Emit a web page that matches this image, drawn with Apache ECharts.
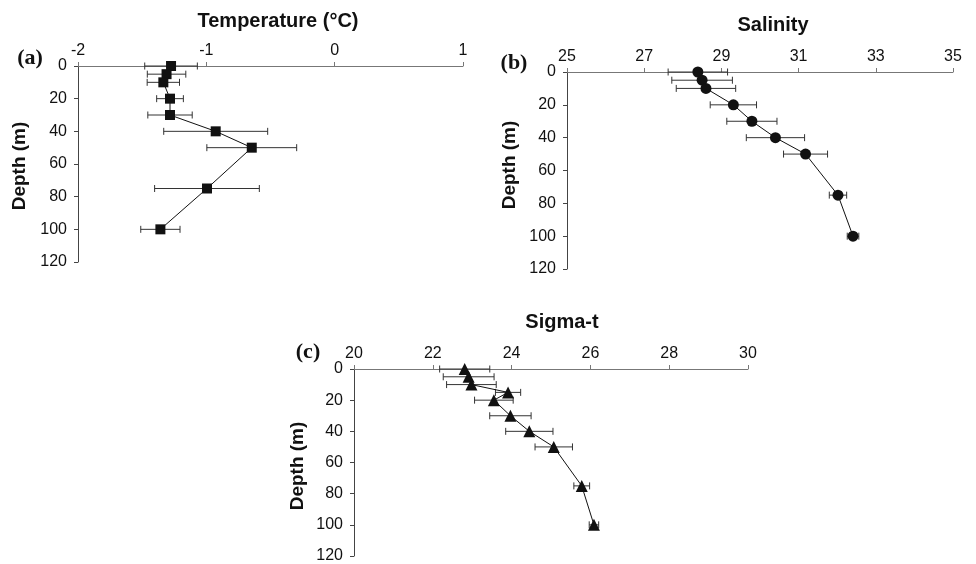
<!DOCTYPE html>
<html>
<head>
<meta charset="utf-8">
<script src="https://cdn.jsdelivr.net/npm/echarts@6/dist/echarts.min.js"></script>
<style>
  html, body { margin: 0; padding: 0; background: #fff; }
  #chart { width: 976px; height: 564px; }
</style>
</head>
<body>
<div id="chart"></div>
<script>
// (a) temperature profile
var tempDepth = [0, 5, 10, 20, 30, 40, 50, 75, 100];
var tempMean = [-1.275, -1.31, -1.335, -1.283, -1.283, -0.927, -0.646, -0.995, -1.358];
var tempErr = [0.205, 0.15, 0.126, 0.104, 0.173, 0.405, 0.35, 0.408, 0.153];

// (b) salinity profile
var salDepth = [0, 5, 10, 20, 30, 40, 50, 75, 100];
var salMean = [28.39, 28.5, 28.6, 29.31, 29.79, 30.4, 31.18, 32.02, 32.41];
var salErr = [0.77, 0.785, 0.77, 0.6, 0.65, 0.755, 0.57, 0.225, 0.15];

// (c) sigma-t profile
var sigDepth = [0, 5, 10, 15, 20, 30, 40, 50, 75, 100];
var sigMean = [22.81, 22.91, 22.98, 23.91, 23.55, 23.97, 24.45, 25.07, 25.78, 26.09];
var sigErr = [0.636, 0.645, 0.63, 0.32, 0.49, 0.525, 0.6, 0.475, 0.2, 0.12];

var FONT = "Liberation Sans, Arial, sans-serif";

function points(mean, depth) {
  return depth.map(function (d, i) { return [mean[i], d]; });
}
function bars(mean, err, depth) {
  return depth.map(function (d, i) { return [mean[i] - err[i], mean[i] + err[i], d]; });
}

function renderErr(params, api) {
  var lo = api.coord([api.value(0), api.value(2)]);
  var hi = api.coord([api.value(1), api.value(2)]);
  var cap = 3.5;
  var st = { stroke: "#333", lineWidth: 1 };
  return {
    type: "group",
    children: [
      { type: "line", shape: { x1: lo[0], y1: lo[1], x2: hi[0], y2: hi[1] }, style: st },
      { type: "line", shape: { x1: lo[0], y1: lo[1] - cap, x2: lo[0], y2: lo[1] + cap }, style: st },
      { type: "line", shape: { x1: hi[0], y1: hi[1] - cap, x2: hi[0], y2: hi[1] + cap }, style: st }
    ]
  };
}

function xAxis(idx, min, max, interval) {
  return {
    type: "value", gridIndex: idx, position: "top",
    min: min, max: max, interval: interval,
    splitLine: { show: false },
    axisLine: { onZero: false, lineStyle: { color: "#777", width: 1 } },
    axisTick: { length: 4, lineStyle: { color: "#777" } },
    axisLabel: { color: "#111", fontSize: 16, fontFamily: FONT, margin: 7 }
  };
}
function yAxis(idx) {
  return {
    type: "value", gridIndex: idx, inverse: true,
    min: 0, max: 120, interval: 20,
    splitLine: { show: false },
    axisLine: { show: true, onZero: false, lineStyle: { color: "#444", width: 1 } },
    axisTick: { show: true, length: 4, lineStyle: { color: "#444" } },
    axisLabel: { color: "#111", fontSize: 16, fontFamily: FONT, margin: 11 }
  };
}

function lineSeries(idx, data, symbol, size) {
  return {
    type: "line", xAxisIndex: idx, yAxisIndex: idx,
    data: data, symbol: symbol, symbolSize: size,
    lineStyle: { color: "#111", width: 1 },
    itemStyle: { color: "#111" },
    z: 3, animation: false
  };
}
function errSeries(idx, data) {
  return {
    type: "custom", xAxisIndex: idx, yAxisIndex: idx,
    renderItem: renderErr, data: data,
    encode: { x: [0, 1], y: 2 },
    z: 2, animation: false
  };
}

function label(text, x, y, opts) {
  var o = {
    type: "text", x: x, y: y,
    style: {
      text: text, fill: "#111", align: "center", verticalAlign: "middle",
      font: opts.font
    }
  };
  if (opts.rotate) o.rotation = Math.PI / 2;
  return o;
}

var chart = echarts.init(document.getElementById("chart"));
var option = {
  animation: false,
  grid: [
    { left: 78, top: 66, width: 385, height: 196 },
    { left: 567, top: 72, width: 386, height: 197 },
    { left: 354, top: 369, width: 394, height: 187 }
  ],
  xAxis: [xAxis(0, -2, 1, 1), xAxis(1, 25, 35, 2), xAxis(2, 20, 30, 2)],
  yAxis: [yAxis(0), yAxis(1), yAxis(2)],
  series: [
    errSeries(0, bars(tempMean, tempErr, tempDepth)),
    lineSeries(0, points(tempMean, tempDepth), "rect", 10),
    errSeries(1, bars(salMean, salErr, salDepth)),
    lineSeries(1, points(salMean, salDepth), "circle", 11),
    errSeries(2, bars(sigMean, sigErr, sigDepth)),
    lineSeries(2, points(sigMean, sigDepth), "triangle", 12)
  ],
  graphic: [
    label("Temperature (°C)", 278, 21, { font: "bold 20px " + FONT }),
    label("Salinity", 773, 25, { font: "bold 20px " + FONT }),
    label("Sigma-t", 562, 322, { font: "bold 20px " + FONT }),
    label("(a)", 30, 58, { font: "bold 22px Liberation Serif, Times New Roman, serif" }),
    label("(b)", 514, 63, { font: "bold 22px Liberation Serif, Times New Roman, serif" }),
    label("(c)", 308, 352, { font: "bold 22px Liberation Serif, Times New Roman, serif" }),
    label("Depth (m)", 20, 166, { font: "bold 19px " + FONT, rotate: true }),
    label("Depth (m)", 510, 165, { font: "bold 19px " + FONT, rotate: true }),
    label("Depth (m)", 298, 466, { font: "bold 19px " + FONT, rotate: true })
  ]
};
chart.setOption(option);
</script>
</body>
</html>
